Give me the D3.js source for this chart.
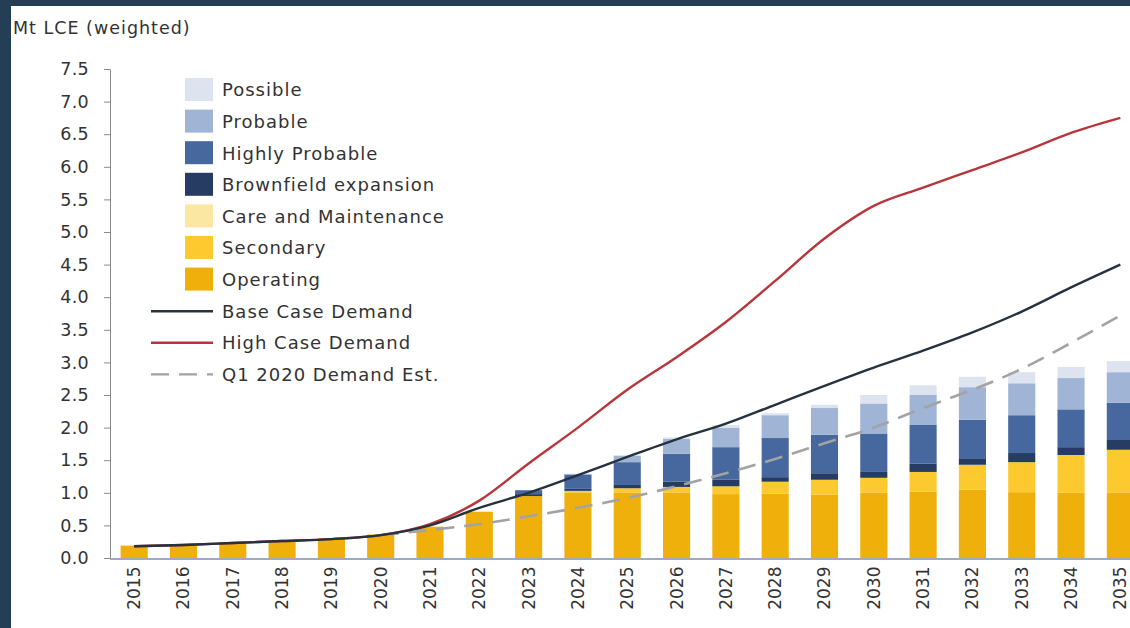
<!DOCTYPE html>
<html><head><meta charset="utf-8">
<script src="https://cdn.jsdelivr.net/npm/d3@7"></script>
<style>html,body{margin:0;padding:0;background:#243e56;overflow:hidden}</style>
</head><body>
<svg id="c" width="1130" height="628"></svg>
<script>
const years = ["2015","2016","2017","2018","2019","2020","2021","2022","2023","2024","2025","2026","2027","2028","2029","2030","2031","2032","2033","2034","2035"];
const operating   = [0.19,0.21,0.24,0.27,0.30,0.36,0.48,0.71,0.95,1.00,1.00,1.00,0.98,0.99,0.97,1.00,1.02,1.05,1.01,1.00,1.00];
const secondary   = [0,0,0,0,0,0,0,0,0,0.03,0.07,0.09,0.12,0.18,0.23,0.23,0.30,0.38,0.46,0.58,0.66];
const careMaint   = [0,0,0,0,0,0,0,0,0,0,0,0,0,0,0,0,0,0,0,0,0];
const brownfield  = [0,0,0,0,0,0,0,0,0.03,0.03,0.05,0.08,0.10,0.07,0.10,0.09,0.13,0.10,0.14,0.12,0.15];
const highlyProb  = [0,0,0,0,0,0,0,0,0.06,0.22,0.35,0.43,0.50,0.60,0.59,0.59,0.59,0.59,0.58,0.58,0.57];
const probable    = [0,0,0,0,0,0,0,0,0,0.01,0.10,0.23,0.30,0.35,0.41,0.46,0.46,0.50,0.49,0.48,0.47];
const possible    = [0,0,0,0,0,0,0,0,0,0,0.01,0.02,0.04,0.03,0.05,0.13,0.15,0.16,0.17,0.17,0.17];
const baseDemand  = [0.18,0.20,0.23,0.26,0.29,0.35,0.50,0.77,1.00,1.27,1.55,1.82,2.06,2.35,2.64,2.92,3.18,3.46,3.78,4.15,4.50];
const highDemand  = [0.18,0.20,0.23,0.26,0.29,0.35,0.52,0.88,1.45,2.00,2.58,3.08,3.62,4.25,4.90,5.40,5.68,5.95,6.22,6.52,6.75];
const q1Years     = ["2020","2021","2022","2023","2024","2025","2026","2027","2028","2029","2030","2031","2032","2033","2034","2035"];
const q1Demand    = [0.35,0.43,0.52,0.64,0.77,0.92,1.10,1.30,1.52,1.76,2.00,2.30,2.58,2.90,3.30,3.72];
const yTicks      = [0,0.5,1,1.5,2,2.5,3,3.5,4,4.5,5,5.5,6,6.5,7,7.5];

const seriesNames = ["Operating","Secondary","Care and Maintenance","Brownfield expansion","Highly Probable","Probable","Possible"];
const seriesData  = [operating,secondary,careMaint,brownfield,highlyProb,probable,possible];
const colors = {"Operating":"#efb00c","Secondary":"#fcc92e","Care and Maintenance":"#fbe6a2","Brownfield expansion":"#263c63","Highly Probable":"#46689f","Probable":"#a0b4d5","Possible":"#dde4ef"};

const svg = d3.select("#c");
const font = "'DejaVu Sans', sans-serif";
svg.append("rect").attr("x",11).attr("y",6).attr("width",1119).attr("height",622).attr("fill","#ffffff");

const x = d3.scaleBand().domain(years).range([109.5, 1145]).paddingInner(0.45).paddingOuter(0.225);
const y = d3.scaleLinear().domain([0,7.5]).range([558,69]);

const table = years.map((yr,i)=>{const o={year:yr}; seriesNames.forEach((n,k)=>o[n]=seriesData[k][i]); return o;});
const stacked = d3.stack().keys(seriesNames)(table);

svg.append("text").attr("x",13).attr("y",34).text("Mt LCE (weighted)")
  .attr("font-family",font).attr("font-size",17.5).attr("letter-spacing",1.0).attr("fill","#333");

// bars
svg.append("g").selectAll("g").data(stacked).join("g").attr("fill",d=>colors[d.key])
  .selectAll("rect").data(d=>d).join("rect")
  .attr("x",d=>x(d.data.year)).attr("width",x.bandwidth())
  .attr("y",d=>y(d[1])).attr("height",d=>Math.max(0,y(d[0])-y(d[1])));

// axes
const yAxis = svg.append("g").attr("transform","translate(110,0)")
  .call(d3.axisLeft(y).tickValues(yTicks).tickFormat(d3.format(".1f")).tickSize(6).tickSizeOuter(0));
yAxis.select(".domain").attr("stroke","#8a8a8a");
yAxis.selectAll(".tick line").attr("stroke","#8a8a8a");
yAxis.selectAll("text").attr("font-family",font).attr("font-size",17.5).attr("letter-spacing",0.3).attr("fill","#333").attr("x",-21);

const xAxis = svg.append("g").attr("transform","translate(0,558.5)")
  .call(d3.axisBottom(x).tickSize(0).tickSizeOuter(0));
xAxis.select(".domain").attr("stroke","#7f8ea6").attr("stroke-width",1.5);
xAxis.selectAll("text").attr("font-family",font).attr("font-size",17).attr("fill","#333")
  .attr("transform","rotate(-90)").attr("text-anchor","end").attr("x",-8).attr("y",0).attr("dy","0.35em");

const cx = yr => x(yr)+x.bandwidth()/2;
const line = d3.line().curve(d3.curveMonotoneX);
svg.append("path").attr("d",line(q1Years.map((yr,i)=>[cx(yr),y(q1Demand[i])])))
  .attr("fill","none").attr("stroke","#a3a3a3").attr("stroke-width",2.6).attr("stroke-dasharray","18,10");
svg.append("path").attr("d",line(years.map((yr,i)=>[cx(yr),y(highDemand[i])])))
  .attr("fill","none").attr("stroke","#b8363b").attr("stroke-width",2.4);
svg.append("path").attr("d",line(years.map((yr,i)=>[cx(yr),y(baseDemand[i])])))
  .attr("fill","none").attr("stroke","#26323f").attr("stroke-width",2.4);

// legend
const legendRects = ["Possible","Probable","Highly Probable","Brownfield expansion","Care and Maintenance","Secondary","Operating"];
const legendLines = [{n:"Base Case Demand",c:"#26323f",d:null},{n:"High Case Demand",c:"#b8363b",d:null},{n:"Q1 2020 Demand Est.",c:"#a3a3a3",d:"18,10"}];
const lg = svg.append("g");
const rowY = i => 90 + i*31.6;
legendRects.forEach((n,i)=>{
  lg.append("rect").attr("x",185).attr("y",rowY(i)-12).attr("width",28).attr("height",23).attr("fill",colors[n]);
  lg.append("text").attr("x",222).attr("y",rowY(i)).attr("dy","0.35em").text(n)
    .attr("font-family",font).attr("font-size",18).attr("letter-spacing",1.0).attr("fill","#333");
});
legendLines.forEach((o,j)=>{
  const i = j+7;
  lg.append("line").attr("x1",151).attr("x2",213).attr("y1",rowY(i)).attr("y2",rowY(i))
    .attr("stroke",o.c).attr("stroke-width",2.4).attr("stroke-dasharray",o.d);
  lg.append("text").attr("x",222).attr("y",rowY(i)).attr("dy","0.35em").text(o.n)
    .attr("font-family",font).attr("font-size",18).attr("letter-spacing",1.0).attr("fill","#333");
});
</script>
</body></html>
